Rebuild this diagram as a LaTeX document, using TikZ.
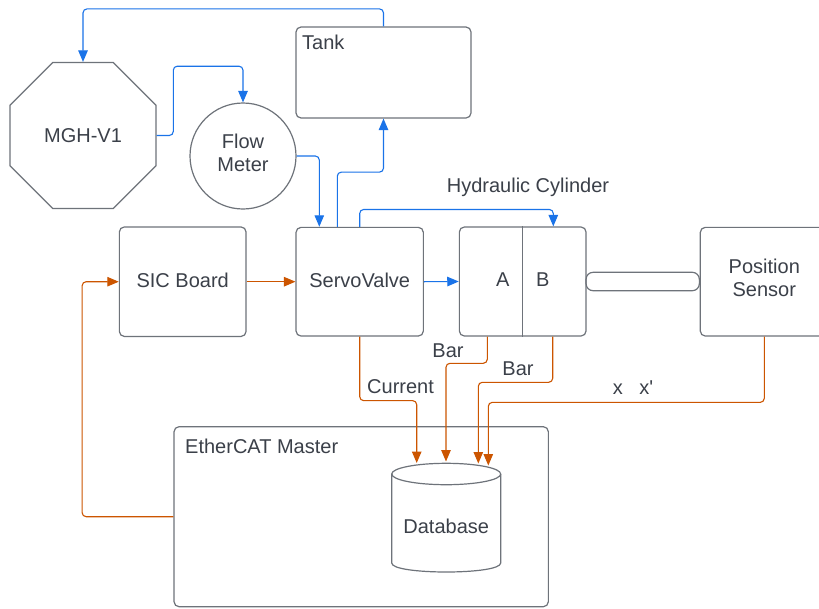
\documentclass[tikz,border=0pt]{standalone}
\usepackage{fontspec}
\setmainfont{Liberation Sans}
\usetikzlibrary{arrows.meta,shapes.geometric,calc}
\definecolor{txt}{HTML}{3B4049}
\definecolor{edgegray}{HTML}{6E737A}
\definecolor{blu}{HTML}{1A73E8}
\definecolor{org}{HTML}{CC5500}
\newcommand{\dfont}{\fontsize{20}{23}\selectfont}
\begin{document}
\begin{tikzpicture}[x=1pt,y=-1pt,
  box/.style={draw=edgegray, line width=1.2pt, rounded corners=5pt, inner sep=0pt, font=\dfont, text=txt, align=center},
  lbl/.style={font=\dfont, text=txt, inner sep=0pt, align=center},
  bl/.style={draw=blu, line width=1.1pt, rounded corners=4pt, -{Triangle[length=11.5pt,width=9.5pt]}},
  ol/.style={draw=org, line width=1.1pt, rounded corners=4pt, -{Triangle[length=11.5pt,width=9.5pt]}}]
\useasboundingbox (0,0) rectangle (819,608);
\fill[white] (0,0) rectangle (819,608);

% nodes
\node[draw=edgegray, line width=1.2pt, regular polygon, regular polygon sides=8, minimum size=158pt, inner sep=0pt, font=\dfont, text=txt] (mgh) at (83,135.5) {MGH-V1};
\node[circle, draw=edgegray, line width=1.2pt, minimum size=106pt, inner sep=0pt] (flow) at (243,156) {};
\node[lbl] (flowlbl) at (243,152.5) {Flow\\Meter};
\node[box, minimum width=175pt, minimum height=91pt] (tank) at (383.5,72.5) {};
\node[lbl, anchor=west] (tanklbl) at (302,42) {Tank};

\node[box, minimum width=126.7pt, minimum height=109.5pt] (sic) at (182.7,281.7) {};
\node[lbl] (siclbl) at (182.7,280.5) {SIC Board};
\node[box, minimum width=127.3pt, minimum height=108.7pt] (servo) at (359.7,281.7) {};
\node[lbl] (servolbl) at (359.7,280.5) {ServoValve};
\node[box, minimum width=126.7pt, minimum height=109pt] (cyl) at (522.7,281.5) {};
\draw[draw=edgegray, line width=1.2pt] (cyl.north) -- (cyl.south);
\node[lbl] (A) at (502.7,280) {A};
\node[lbl] (B) at (542.7,280) {B};
\node[lbl] (hyd) at (528,187) {Hydraulic Cylinder};
\node[box, minimum width=113.3pt, minimum height=18.4pt, rounded corners=7pt] (rod) at (642.7,281.5) {};
\node[box, minimum width=128pt, minimum height=108.7pt] (pos) at (764.3,281.7) {};
\node[lbl] (poslbl) at (764.3,278.3) {Position\\Sensor};

\node[box, minimum width=374.3pt, minimum height=180pt] (ether) at (361.2,516.7) {};
\node[lbl, anchor=west] (etherlbl) at (185,446.7) {EtherCAT Master};

% database cylinder
\draw[draw=edgegray, line width=1.2pt] (446.2,474) ellipse [x radius=54.5pt, y radius=10.7pt];
\draw[draw=edgegray, line width=1.2pt] (391.7,474) -- (391.7,563) .. controls (391.7,575) and (500.7,575) .. (500.7,563) -- (500.7,474);
\node[lbl] (db) at (446.2,526) {Database};

\coordinate (d1) at (416.7,463);
\coordinate (d2) at (446,461.5);
\coordinate (d3) at (478.3,463.5);
\coordinate (d4) at (488.3,465.5);

% blue connectors
\draw[bl] (tank.north) -- ++(0,-17.5) -| (mgh.north);
\draw[bl] (mgh.east) -- ++(16.7,0) -- ++(0,-69.3) -| (flow.north);
\draw[bl] (flow.east) -| ([xshift=-40.4pt]servo.north);
\draw[bl] ([xshift=-22.4pt]servo.north) -- ++(0,-54.6) -| (tank.south);
\draw[bl] (servo.north) -- ++(0,-17.3) -| ([xshift=30.6pt]cyl.north);
\draw[bl] (servo.east) -- (cyl.west);

% orange connectors
\draw[ol] (sic.east) -- (servo.west);
\draw[ol] (ether.west) -- ++(-91.3,0) |- (sic.west);
\draw[ol] (servo.south) -- ++(0,64) -| (d1);
\draw[ol] ([xshift=-35.4pt]cyl.south) -- ++(0,26.7) -| (d2);
\draw[ol] ([xshift=30pt]cyl.south) -- ++(0,45.7) -| (d3);
\draw[ol] (pos.south) -- ++(0,65.7) -| (d4);

% labels
\node[lbl, anchor=west] (cur) at (367,386.7) {Current};
\node[lbl] (bar1) at (448,350.7) {Bar};
\node[lbl] (bar2) at (518,369) {Bar};
\node[lbl] (xx) at (633,387.3) {x~~~x\textquotesingle};
\end{tikzpicture}
\end{document}
